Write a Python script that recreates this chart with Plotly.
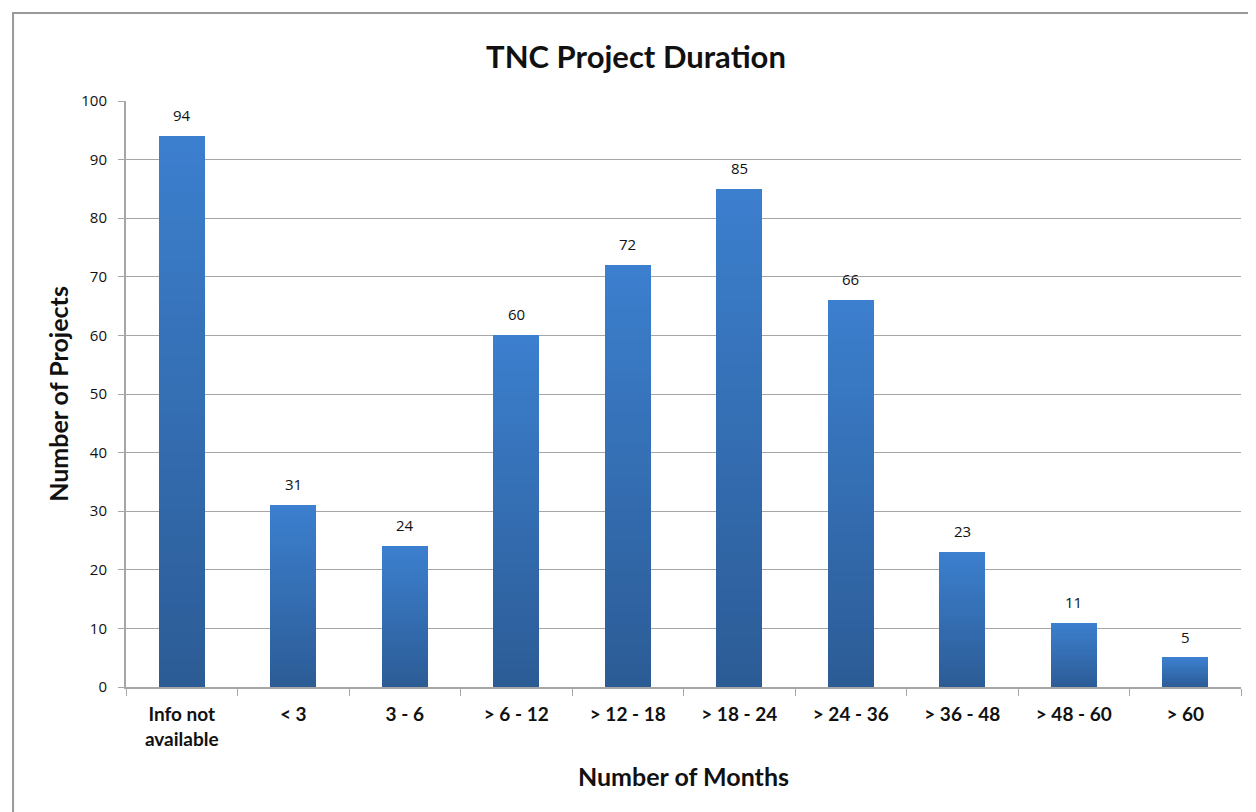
import plotly.graph_objects as go

# data
categories = ['Info not<br>available', '< 3', '3 - 6', '> 6 - 12', '> 12 - 18',
              '> 18 - 24', '> 24 - 36', '> 36 - 48', '> 48 - 60', '> 60']
projects = [94, 31, 24, 60, 72, 85, 66, 23, 11, 5]

# bold tick labels
tick_text = ['<b>%s</b>' % c for c in categories]

# bar gradient: dark at bottom, light at top (drawn as stacked slices of each bar)
n_slices = 40
bottom_rgb = (44, 92, 150)
top_rgb = (60, 127, 206)

fig = go.Figure()
for i in range(n_slices):
    t = i / (n_slices - 1)
    c = tuple(round(b + (tp - b) * t) for b, tp in zip(bottom_rgb, top_rgb))
    fig.add_trace(go.Bar(
        x=tick_text,
        y=[v / n_slices for v in projects],
        marker=dict(color='rgb(%d,%d,%d)' % c, line=dict(width=0)),
        showlegend=False,
        hoverinfo='skip',
    ))

# value labels above bars
for cat, v in zip(tick_text, projects):
    fig.add_annotation(x=cat, y=v, text=str(v), showarrow=False,
                       yanchor='bottom', yshift=9,
                       font=dict(family='Open Sans', size=15, color='#111111'))

fig.update_layout(
    width=1256, height=812,
    barmode='stack', bargap=0.59,
    paper_bgcolor='white', plot_bgcolor='white',
    margin=dict(l=118, r=23, t=93, b=133),
    title=dict(text='<b>TNC Project Duration</b>', x=0.5, xanchor='center',
               y=0.94, yanchor='middle',
               font=dict(family='Lato', size=31, color='#111111')),
    xaxis=dict(
        title=dict(text='<b>Number of Months</b>', font=dict(family='Lato', size=25, color='#111111'),
                   standoff=20),
        tickfont=dict(family='Lato', size=19, color='#111111'),
        showline=True, linecolor='#a6a6a6', linewidth=2,
        ticks='outside', ticklen=7, tickcolor='#a6a6a6', tickwidth=1,
        tickson='boundaries', showgrid=False, ticklabelstandoff=9,
    ),
    yaxis=dict(
        title=dict(text='<b>Number of Projects</b>', font=dict(family='Lato', size=25, color='#111111'),
                   standoff=6),
        range=[0, 100], dtick=10,
        tickfont=dict(family='Open Sans', size=15, color='#111111'),
        showline=True, linecolor='#a6a6a6', linewidth=2,
        ticks='outside', ticklen=6, tickcolor='#a6a6a6', ticklabelstandoff=8,
        showgrid=True, gridcolor='#a6a6a6', gridwidth=1, zeroline=False,
    ),
    shapes=[dict(type='rect', xref='paper', yref='paper',
                 x0=-0.1013, x1=1.1, y0=-0.3, y1=1.150,
                 line=dict(color='#999999', width=2), fillcolor='rgba(0,0,0,0)',
                 layer='below')],
)

fig.write_html('out.html')
